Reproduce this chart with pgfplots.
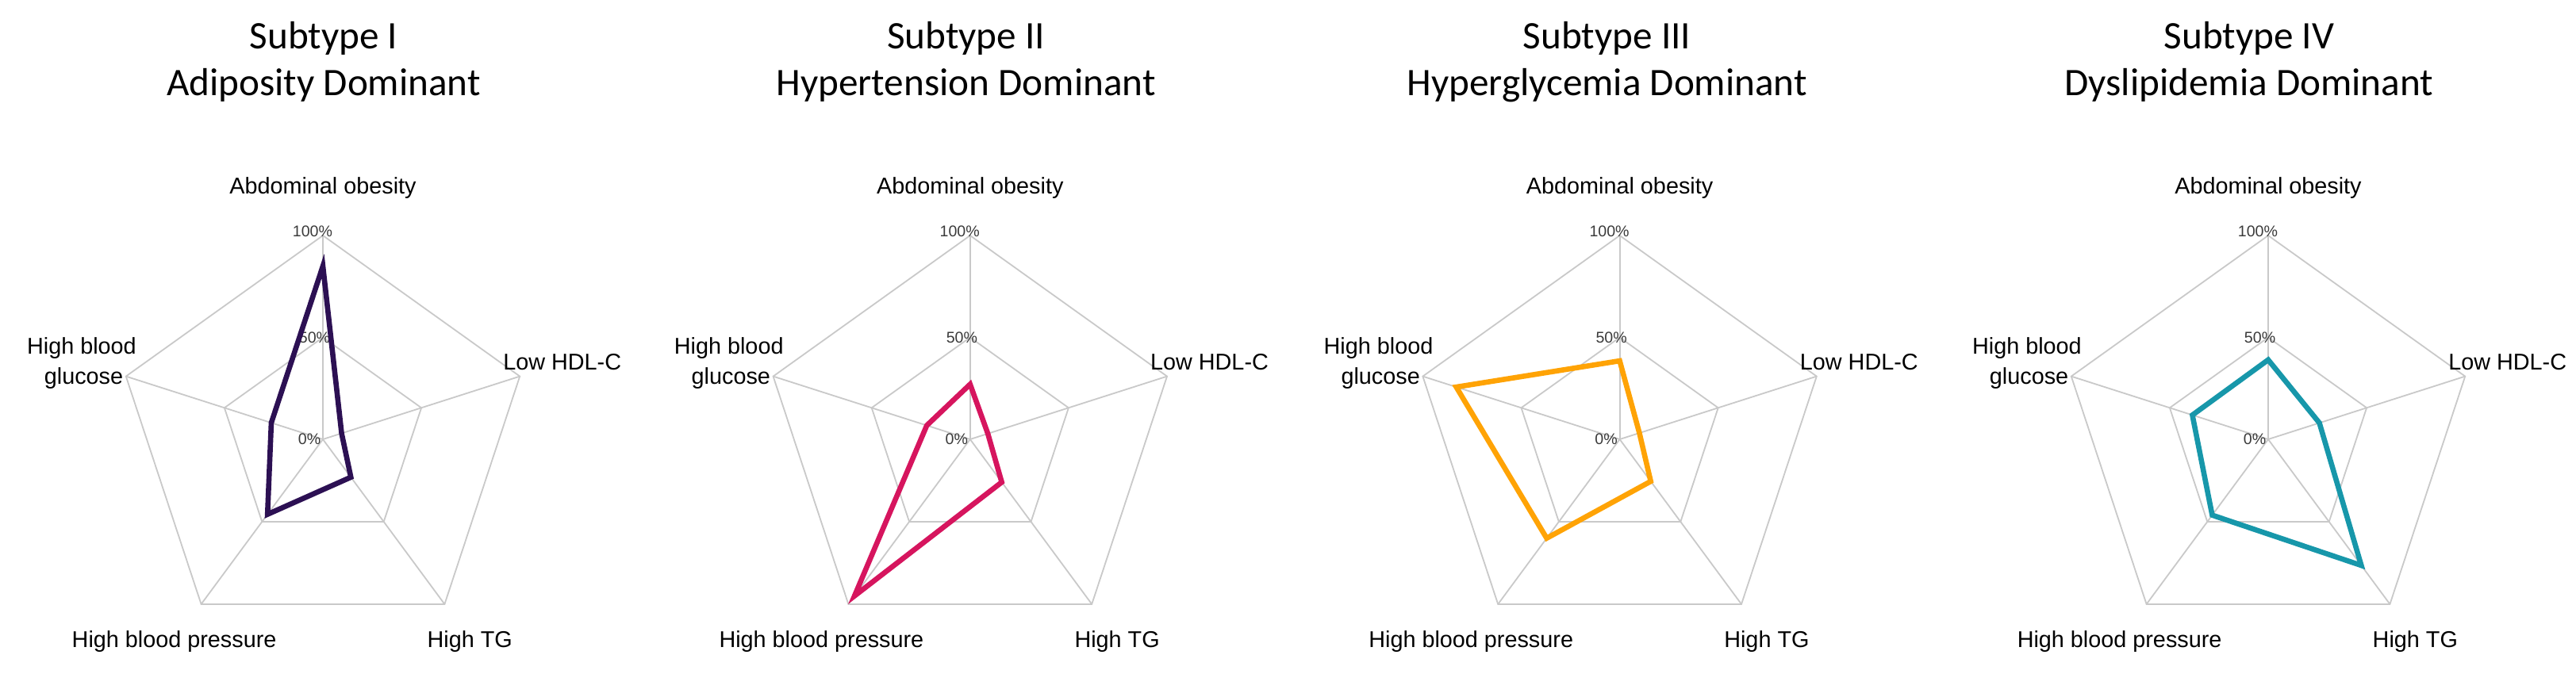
\documentclass[border=0pt]{standalone}
\usepackage{pgfplots}
\pgfplotsset{compat=1.18}
\usepackage{fontspec}
\setmainfont{Carlito}
\newfontfamily\arial{Liberation Sans}
\definecolor{gridc}{HTML}{C9C9C9}
\definecolor{cI}{HTML}{2C1053}
\definecolor{cII}{HTML}{D6155E}
\definecolor{cIII}{HTML}{FFA305}
\definecolor{cIV}{HTML}{1797AA}
\definecolor{pctc}{HTML}{3A3A3A}

\pgfplotsset{
  radar/.style={
    anchor=center, x=65.25pt, y=64.25pt,
    xmin=-1.5, xmax=1.5, ymin=-1.3, ymax=1.3,
    hide axis, clip=false,
  },
  gridline/.style={gridc, line width=0.45pt, data cs=polar, forget plot},
  dataline/.style={line width=1.65pt, data cs=polar, line join=miter},
}
\newcommand\radargrid{%
  \addplot[gridline] coordinates {(90,1) (18,1) (-54,1) (-126,1) (162,1) (90,1) (18,1)};
  \addplot[gridline] coordinates {(90,0.5) (18,0.5) (-54,0.5) (-126,0.5) (162,0.5) (90,0.5) (18,0.5)};
  \addplot[gridline] coordinates {(90,0) (90,1)};
  \addplot[gridline] coordinates {(18,0) (18,1)};
  \addplot[gridline] coordinates {(-54,0) (-54,1)};
  \addplot[gridline] coordinates {(-126,0) (-126,1)};
  \addplot[gridline] coordinates {(162,0) (162,1)};
  \node[pctc, inner sep=0pt, font=\arial\fontsize{4.9}{6}\selectfont] at (axis cs:-0.05,1.02) {100\%};
  \node[pctc, inner sep=0pt, font=\arial\fontsize{4.9}{6}\selectfont] at (axis cs:-0.04,0.50) {50\%};
  \node[pctc, inner sep=0pt, font=\arial\fontsize{4.9}{6}\selectfont] at (axis cs:-0.065,0.0) {0\%};
  \node[anchor=base, inner sep=0pt, font=\arial\fontsize{7.2}{8}\selectfont] at (axis cs:0,1.203) {Abdominal obesity};
  \node[anchor=base, inner sep=0pt, font=\arial\fontsize{7.2}{8}\selectfont] at (axis cs:1.156,0.340) {Low HDL-C};
  \node[anchor=base, inner sep=0pt, font=\arial\fontsize{7.2}{8}\selectfont] at (axis cs:0.710,-1.021) {High TG};
  \node[anchor=base, inner sep=0pt, font=\arial\fontsize{7.2}{8}\selectfont] at (axis cs:-0.718,-1.021) {High blood pressure};
  \node[anchor=base, inner sep=0pt, font=\arial\fontsize{7.2}{8}\selectfont] at (axis cs:-1.165,0.418) {High blood};
  \node[anchor=base, inner sep=0pt, font=\arial\fontsize{7.2}{8}\selectfont] at (axis cs:-1.155,0.270) {glucose};
}

\begin{document}
\begin{tikzpicture}
% Subtype I
\begin{axis}[radar, at={(101.75pt,-138.5pt)}]
  \radargrid
  \addplot[dataline, cI] coordinates {(90,0.85) (18,0.095) (-54,0.23) (-126,0.455) (162,0.262) (90,0.85) (18,0.095)};
\end{axis}
% Subtype II
\begin{axis}[radar, at={(305.7pt,-138.5pt)}]
  \radargrid
  \addplot[dataline, cII] coordinates {(90,0.27) (18,0.09) (-54,0.26) (-126,0.95) (162,0.22) (90,0.27) (18,0.09)};
\end{axis}
% Subtype III
\begin{axis}[radar, at={(510.4pt,-138.5pt)}]
  \radargrid
  \addplot[dataline, cIII] coordinates {(90,0.385) (18,0.10) (-54,0.255) (-126,0.60) (162,0.83) (90,0.385) (18,0.10)};
\end{axis}
% Subtype IV
\begin{axis}[radar, at={(714.75pt,-138.5pt)}]
  \radargrid
  \addplot[dataline, cIV] coordinates {(90,0.39) (18,0.26) (-54,0.765) (-126,0.46) (162,0.385) (90,0.39) (18,0.26)};
\end{axis}
% titles
\begin{scope}[every node/.style={anchor=base, font=\fontsize{12.3}{14}\selectfont, inner sep=0pt}]
  \node at (102pt,-15.25pt) {Subtype I};
  \node at (102pt,-30pt) {Adiposity Dominant};
  \node at (304.4pt,-15.25pt) {Subtype II};
  \node at (304.4pt,-30pt) {Hypertension Dominant};
  \node at (506.4pt,-15.25pt) {Subtype III};
  \node at (506.4pt,-30pt) {Hyperglycemia Dominant};
  \node at (708.75pt,-15.25pt) {Subtype IV};
  \node at (708.75pt,-30pt) {Dyslipidemia Dominant};
\end{scope}
\pgfresetboundingbox
\path (0,0) rectangle (811.75pt,-212.25pt);
\end{tikzpicture}
\end{document}
